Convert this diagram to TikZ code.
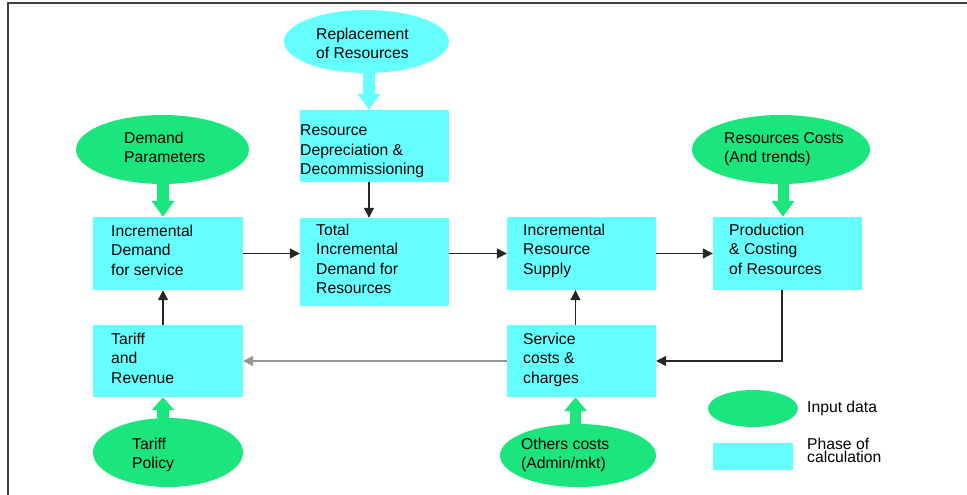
\documentclass[tikz,border=0pt]{standalone}
\usepackage{fontspec}
\setmainfont{Liberation Sans}
\usetikzlibrary{arrows.meta,shapes.geometric}
\definecolor{phasec}{RGB}{102,255,255}
\definecolor{inputc}{RGB}{26,230,125}
\definecolor{framec}{RGB}{64,64,64}
\definecolor{backc}{RGB}{150,150,150}
\begin{document}
\begin{tikzpicture}[x=1pt,y=-1pt,
  phasebox/.style={rectangle, fill=phasec, inner sep=0pt},
  inputell/.style={ellipse, fill=inputc, inner sep=0pt},
  txt/.style={anchor=north west, inner sep=0pt, align=left,
    font=\fontsize{15.7}{19.4}\selectfont},
  flow/.style={draw=black!85, line width=1.2pt,
    -{Triangle[length=10pt,width=10pt]}},
  backflow/.style={flow, draw=backc, -{Triangle[length=10pt,width=10pt,fill=backc]}},
  fatarrow/.style={line width=12pt, -{Triangle[length=#1,width=22pt]}},
  fatarrow/.default=16pt]
\useasboundingbox (0,0) rectangle (967,495);
% frame
\draw[framec, line width=1.5pt] (8,495) -- (8,3) -- (967,3);

% phases of calculation
\node[phasebox, minimum width=149pt, minimum height=72pt] (rdd)  at (374.5,146)   {};
\node[phasebox, minimum width=149pt, minimum height=88pt] (tid)  at (374.5,262)   {};
\node[phasebox, minimum width=150pt, minimum height=73pt] (idem) at (168,253.5)   {};
\node[phasebox, minimum width=149pt, minimum height=73pt] (irs)  at (581.5,253.5) {};
\node[phasebox, minimum width=149pt, minimum height=73pt] (pcr)  at (787.5,253.5) {};
\node[phasebox, minimum width=150pt, minimum height=72pt] (tar)  at (168,361)     {};
\node[phasebox, minimum width=149pt, minimum height=72pt] (scc)  at (581.5,361)   {};

% input data
\node[ellipse, fill=phasec, inner sep=0pt, minimum width=165pt, minimum height=63pt] (repl) at (366.5,41.5) {};
\node[inputell, minimum width=173pt, minimum height=69pt] (dp) at (162.5,149.5) {};
\node[inputell, minimum width=178pt, minimum height=69pt] (rc) at (781,149.5)   {};
\node[inputell, minimum width=150pt, minimum height=69pt] (tp) at (168,452.5)   {};
\node[inputell, minimum width=156pt, minimum height=63pt] (oc) at (578,455.5)   {};

% legend
\node[inputell, minimum width=90pt, minimum height=37pt] (legell) at (753,408.5) {};
\node[phasebox, minimum width=80pt, minimum height=27pt] (legbox) at (753,456.5) {};

% texts
\node[txt] (trepl) at (316,28)    {Replacement\\of Resources};
\node[txt] (trdd)  at (300,124.7) {Resource\\Depreciation \&\\Decommissioning};
\node[txt] (tdp)   at (124,132)   {Demand\\Parameters};
\node[txt] (tidem) at (111,224.7) {Incremental\\Demand\\for service};
\node[txt] (ttid)  at (316,223.7) {Total\\Incremental\\Demand for\\Resources};
\node[txt] (tirs)  at (523,223.7) {Incremental\\Resource\\Supply};
\node[txt] (tpcr)  at (729,223.7) {Production\\\& Costing\\of Resources};
\node[txt] (trc)   at (724,132)   {Resources Costs\\(And trends)};
\node[txt] (ttar)  at (111,332.7) {Tariff\\and\\Revenue};
\node[txt] (tscc)  at (523,332.7) {Service\\costs \&\\charges};
\node[txt] (ttp)   at (132,437.7) {Tariff\\Policy};
\node[txt] (toc)   at (521,437.7) {Others costs\\(Admin/mkt)};
\node[txt] (tin)   at (807,400.7) {Input data};
\node[txt, font=\fontsize{15.7}{13}\selectfont] (tphase) at (807,437.7) {Phase of\\calculation};

% shaft positions of the vertical arrows
\coordinate (xa) at (369,0);
\coordinate (xb) at (163,0);
\coordinate (xc) at (783,0);
\coordinate (xd) at (575.5,0);

% input arrows
\draw[fatarrow, draw=phasec] (repl.south -| xa) -- (rdd.north -| xa);
\draw[fatarrow, draw=inputc] (dp.south -| xb) -- (idem.north -| xb);
\draw[fatarrow, draw=inputc, line width=11pt] (rc.south -| xc) -- (pcr.north -| xc);
\draw[fatarrow=13pt, draw=inputc] (tp.north -| xb) -- (tar.south -| xb);
\draw[fatarrow=14pt, draw=inputc, line width=11pt] (oc.north -| xd) -- (scc.south -| xd);

% calculation flow
\draw[flow] (rdd.south -| xa) -- (tid.north -| xa);
\draw[flow] (idem.east) -- (idem.east -| tid.west);
\draw[flow] (tid.east |- irs.west) -- (irs.west);
\draw[flow] (irs.east) -- (pcr.west);
\draw[flow] (tar.north -| xb) -- (idem.south -| xb);
\draw[flow] (scc.north -| xd) -- (irs.south -| xd);
\draw[flow] ([xshift=-1pt]pcr.south -| xc) |- (scc.east);
\draw[backflow] (scc.west) -- (tar.east);
\end{tikzpicture}
\end{document}
